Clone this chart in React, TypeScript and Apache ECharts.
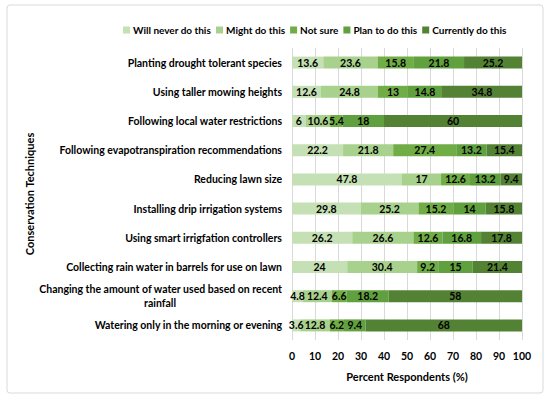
import React, { useEffect, useRef } from "react";
import * as echarts from "echarts";

const categories = [
  "Planting drought tolerant species",
  "Using taller mowing heights",
  "Following local water restrictions",
  "Following evapotranspiration recommendations",
  "Reducing lawn size",
  "Installing drip irrigation systems",
  "Using smart irrigfation controllers",
  "Collecting rain water in barrels for use on lawn",
  "Changing the amount of water used based on recent rainfall",
  "Watering only in the morning or evening",
];

const seriesNames = [
  "Will never do this",
  "Might do this",
  "Not sure",
  "Plan to do this",
  "Currently do this",
];

const willNever = [13.6, 12.6, 6, 22.2, 47.8, 29.8, 26.2, 24, 4.8, 3.6];
const mightDo = [23.6, 24.8, 10.6, 21.8, 17, 25.2, 26.6, 30.4, 12.4, 12.8];
const notSure = [15.8, 13, 5.4, 27.4, 12.6, 15.2, 12.6, 9.2, 6.6, 6.2];
const planTo = [21.8, 14.8, 18, 13.2, 13.2, 14, 16.8, 15, 18.2, 9.4];
const currently = [25.2, 34.8, 60, 15.4, 9.4, 15.8, 17.8, 21.4, 58, 68];

const xTicks = [0, 10, 20, 30, 40, 50, 60, 70, 80, 90, 100];

const colors = ["#C5E0B4", "#A9D18E", "#70AD47", "#60A03E", "#548235"];

const FONT = "Lato, 'Open Sans', sans-serif";
const LABEL_SIZE = 10.5;
const WRAP_FIRST = "Changing the amount of water used based on recent";
const WRAP_SECOND = "rainfall";

function measure(text: string): number {
  const c = document.createElement("canvas");
  const ctx = c.getContext("2d");
  if (!ctx) return 0;
  ctx.font = `bold ${LABEL_SIZE}px Lato`;
  return ctx.measureText(text).width;
}

export default function App() {
  const ref = useRef<HTMLDivElement>(null);
  useEffect(() => {
    if (!ref.current) return;
    const chart = echarts.init(ref.current, undefined, { renderer: "svg" });
    const allData = [willNever, mightDo, notSure, planTo, currently];
    const shift = Math.max(0, Math.round((measure(WRAP_FIRST) - measure(WRAP_SECOND)) / 2));
    chart.setOption({
      animation: false,
      textStyle: { fontFamily: FONT },
      color: colors,
      graphic: [
        {
          type: "rect",
          shape: { x: 7, y: 5, width: 536, height: 388, r: 3 },
          style: { fill: "none", stroke: "#d9d9d9", lineWidth: 1 },
          silent: true,
        },
      ],
      legend: {
        left: 118,
        top: 20,
        itemWidth: 7,
        itemHeight: 7,
        itemGap: 5,
        icon: "rect",
        textStyle: { fontFamily: FONT, fontSize: 10, fontWeight: "bold", color: "#000", padding: [0, 0, 0, -2] },
        data: seriesNames,
      },
      grid: { left: 292, right: 28, top: 48, bottom: 62, containLabel: false },
      xAxis: {
        type: "value",
        min: 0,
        max: 100,
        interval: 10,
        name: "Percent Respondents (%)",
        nameLocation: "middle",
        nameGap: 31,
        nameTextStyle: { fontFamily: FONT, fontSize: 11, fontWeight: "bold", color: "#000" },
        axisLine: { show: false },
        axisTick: { show: false },
        axisLabel: {
          margin: 10,
          fontFamily: FONT,
          fontSize: 10.5,
          fontWeight: "bold",
          color: "#000",
          formatter: (v: number) => (xTicks.includes(v) ? String(v) : ""),
        },
        splitLine: { show: true, lineStyle: { color: "#d9d9d9", width: 1 } },
      },
      yAxis: {
        type: "category",
        inverse: true,
        data: categories,
        name: "Conservation Techniques",
        nameLocation: "middle",
        nameGap: 256,
        nameTextStyle: { fontFamily: FONT, fontSize: 11, fontWeight: "bold", color: "#000" },
        axisLine: { show: false },
        axisTick: { show: false },
        axisLabel: {
          margin: 10,
          fontFamily: FONT,
          fontSize: LABEL_SIZE,
          fontWeight: "bold",
          color: "#000",
          lineHeight: 14,
          formatter: (v: string) => {
            if (v === WRAP_FIRST + " " + WRAP_SECOND) {
              return `{a|${WRAP_FIRST}}\n{b|${WRAP_SECOND}}`;
            }
            return v;
          },
          rich: {
            a: { fontFamily: FONT, fontSize: LABEL_SIZE, fontWeight: "bold", color: "#000", lineHeight: 14 },
            b: {
              fontFamily: FONT,
              fontSize: LABEL_SIZE,
              fontWeight: "bold",
              color: "#000",
              lineHeight: 14,
              padding: [0, shift, 0, 0],
            },
          },
        },
      },
      series: seriesNames.map((name, i) => ({
        name,
        type: "bar",
        stack: "total",
        barWidth: 12,
        data: allData[i],
        itemStyle: { color: colors[i] },
        label: {
          show: true,
          position: "inside",
          fontFamily: FONT,
          fontSize: 10.5,
          fontWeight: "bold",
          color: "#000",
          formatter: (p: any) => String(p.value),
        },
      })),
    });
    return () => chart.dispose();
  }, []);
  return (
    <div
      ref={ref}
      style={{ position: "fixed", left: 0, top: 0, width: 550, height: 402, background: "#fff" }}
    />
  );
}
